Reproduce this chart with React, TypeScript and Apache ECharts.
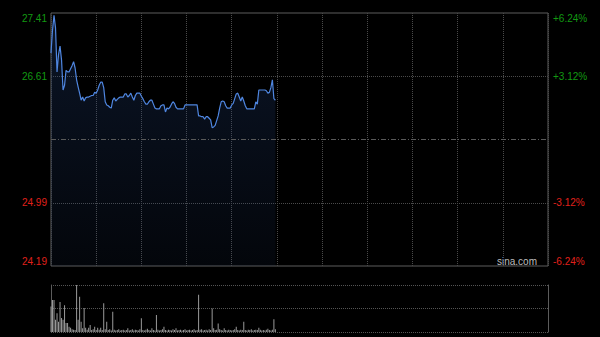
import React, { useEffect, useRef } from "react";
import * as echarts from "echarts";

const prices: number[] = [
  26.90, 27.19, 27.38, 27.22, 26.66, 26.88, 26.99, 26.81, 26.43, 26.49,
  26.68, 26.66, 26.66, 26.70, 26.74, 26.79, 26.71, 26.56, 26.47, 26.39,
  26.30, 26.34, 26.29, 26.33, 26.34, 26.34, 26.35, 26.36, 26.36, 26.40,
  26.39, 26.43, 26.49, 26.53, 26.53, 26.46, 26.28, 26.24, 26.23, 26.21,
  26.20, 26.30, 26.33, 26.29, 26.31, 26.33, 26.34, 26.34, 26.34, 26.38,
  26.38, 26.34, 26.36, 26.39, 26.34, 26.30, 26.36, 26.39, 26.39, 26.39,
  26.35, 26.32, 26.28, 26.25, 26.25, 26.28, 26.30, 26.30, 26.25, 26.20,
  26.19, 26.19, 26.19, 26.23, 26.24, 26.24, 26.15, 26.20, 26.19, 26.21,
  26.25, 26.28, 26.26, 26.21, 26.19, 26.19, 26.19, 26.19, 26.19, 26.24,
  26.24, 26.24, 26.24, 26.24, 26.24, 26.24, 26.24, 26.24, 26.10, 26.10,
  26.09, 26.09, 26.06, 26.09, 26.09, 26.07, 26.05, 25.95, 25.96, 25.98,
  26.04, 26.10, 26.20, 26.28, 26.29, 26.28, 26.23, 26.20, 26.20, 26.20,
  26.24, 26.26, 26.32, 26.38, 26.39, 26.34, 26.29, 26.34, 26.29, 26.23,
  26.19, 26.19, 26.19, 26.19, 26.19, 26.19, 26.28, 26.25, 26.43, 26.43,
  26.43, 26.43, 26.43, 26.42, 26.39, 26.40, 26.46, 26.56, 26.32, 26.30,
];

const volumes: number[] = [
  54, 68, 68, 26, 40, 22, 64, 30, 26, 57,
  19, 19, 11, 9, 6, 5, 4, 100, 26, 75,
  22, 8, 51, 9, 5, 9, 15, 4, 6, 11,
  4, 9, 5, 9, 4, 61, 6, 22, 4, 6,
  3, 43, 5, 3, 4, 6, 3, 4, 5, 3,
  4, 8, 3, 4, 6, 3, 5, 4, 3, 6,
  29, 4, 3, 5, 7, 4, 3, 8, 4, 3,
  36, 5, 3, 4, 6, 11, 4, 3, 5, 4,
  3, 6, 4, 8, 3, 4, 5, 3, 4, 6,
  3, 4, 5, 3, 4, 6, 3, 4, 79, 5,
  6, 3, 4, 5, 3, 6, 4, 50, 8, 4,
  5, 18, 6, 4, 3, 8, 4, 3, 5, 4,
  3, 4, 6, 11, 4, 3, 5, 4, 22, 4,
  3, 5, 4, 6, 3, 4, 5, 4, 9, 5,
  3, 4, 3, 5, 7, 4, 3, 5, 27, 6,
];

const priceTicks: string[] = ["24.19", "24.99", "", "26.61", "27.41"];
const pctTicks: string[] = ["-6.24%", "-3.12%", "", "+3.12%", "+6.24%"];
const tickColors: string[] = ["#e0201b", "#e0201b", "#888", "#129912", "#129912"];

const PRICE_MIN = 24.19;
const PRICE_MAX = 27.41;
const PRICE_STEP = 0.805;
const TOTAL_MINUTES = 330;
const VOL_MAX = 100;

const FONT = "Arial, 'Liberation Sans', sans-serif";

export default function App() {
  const ref = useRef<HTMLDivElement>(null);

  useEffect(() => {
    if (!ref.current) return;
    const chart = echarts.init(ref.current, undefined, { renderer: "svg" });
    const idx = (v: number) => Math.round((v - PRICE_MIN) / PRICE_STEP);

    chart.setOption({
      animation: false,
      backgroundColor: "#000",
      grid: [
        { left: 51, top: 13, width: 497, height: 253, show: true, borderColor: "#5c5c5c", borderWidth: 1, backgroundColor: "transparent" },
        { left: 51, top: 285, width: 497, height: 47 },
      ],
      xAxis: [
        {
          gridIndex: 0, type: "value", min: 0, max: TOTAL_MINUTES, interval: 30,
          axisLine: { show: false }, axisTick: { show: false }, axisLabel: { show: false },
          splitLine: { show: true, lineStyle: { color: "#4a4a4a", type: "dotted", width: 1 } },
        },
        {
          gridIndex: 1, type: "value", min: 0, max: TOTAL_MINUTES, interval: 30,
          axisLine: { show: false }, axisTick: { show: false }, axisLabel: { show: false },
          splitLine: { show: false },
        },
      ],
      yAxis: [
        {
          gridIndex: 0, type: "value", min: PRICE_MIN, max: PRICE_MAX, interval: PRICE_STEP,
          position: "left",
          axisLine: { show: false }, axisTick: { show: false },
          axisLabel: {
            margin: 4, fontSize: 10, fontFamily: FONT,
            formatter: (v: number) => priceTicks[idx(v)] ?? "",
            color: (v: number) => tickColors[idx(v)] ?? "#888",
            verticalAlignMinLabel: "bottom",
            verticalAlignMaxLabel: "top",
          },
          splitLine: {
            show: true,
            lineStyle: { color: ["transparent", "#4a4a4a", "transparent", "#4a4a4a", "transparent"], type: "dotted", width: 1 },
          },
        },
        {
          gridIndex: 0, type: "value", min: PRICE_MIN, max: PRICE_MAX, interval: PRICE_STEP,
          position: "right",
          axisLine: { show: false }, axisTick: { show: false },
          axisLabel: {
            margin: 5, fontSize: 10, fontFamily: FONT,
            formatter: (v: number) => pctTicks[idx(v)] ?? "",
            color: (v: number) => tickColors[idx(v)] ?? "#888",
            verticalAlignMinLabel: "bottom",
            verticalAlignMaxLabel: "top",
          },
          splitLine: { show: false },
        },
        {
          gridIndex: 1, type: "value", min: 0, max: VOL_MAX, interval: VOL_MAX / 2,
          position: "left",
          axisLine: { show: true, lineStyle: { color: "#5c5c5c", width: 1 } },
          axisTick: { show: false }, axisLabel: { show: false },
          splitLine: { show: true, lineStyle: { color: "#555", type: "dotted", width: 1 } },
        },
        {
          gridIndex: 1, type: "value", min: 0, max: VOL_MAX, interval: VOL_MAX / 2,
          position: "right",
          axisLine: { show: true, lineStyle: { color: "#5c5c5c", width: 1 } },
          axisTick: { show: false }, axisLabel: { show: false },
          splitLine: { show: false },
        },
      ],
      series: [
        {
          type: "line",
          xAxisIndex: 0, yAxisIndex: 0,
          data: prices.map((p, i) => [i, p]),
          showSymbol: false,
          symbol: "none",
          lineStyle: { color: "#4f86e0", width: 1.2 },
          areaStyle: {
            color: new echarts.graphic.LinearGradient(0, 0, 0, 1, [
              { offset: 0, color: "rgba(38,70,130,0.42)" },
              { offset: 1, color: "rgba(38,70,130,0.12)" },
            ]),
          },
          markLine: {
            silent: true, symbol: "none", label: { show: false },
            lineStyle: { color: "#5a5a5a", type: [5, 2, 1, 2], width: 1 },
            data: [{ yAxis: (PRICE_MIN + PRICE_MAX) / 2 }],
          },
        },
        {
          type: "bar",
          xAxisIndex: 1, yAxisIndex: 2,
          data: volumes.map((v, i) => [i, v]),
          barWidth: 1,
          itemStyle: { color: "#9a9a9a" },
        },
      ],
      graphic: [
        {
          type: "text", right: 63, top: 256,
          style: { text: "sina.com", fill: "#bdbdbd", fontSize: 10, fontFamily: FONT },
        },
      ],
    });

    return () => chart.dispose();
  }, []);

  return (
    <div style={{ position: "absolute", left: 0, top: 0, width: 600, height: 337, background: "#000" }}>
      <div ref={ref} style={{ width: 600, height: 337 }} />
    </div>
  );
}
